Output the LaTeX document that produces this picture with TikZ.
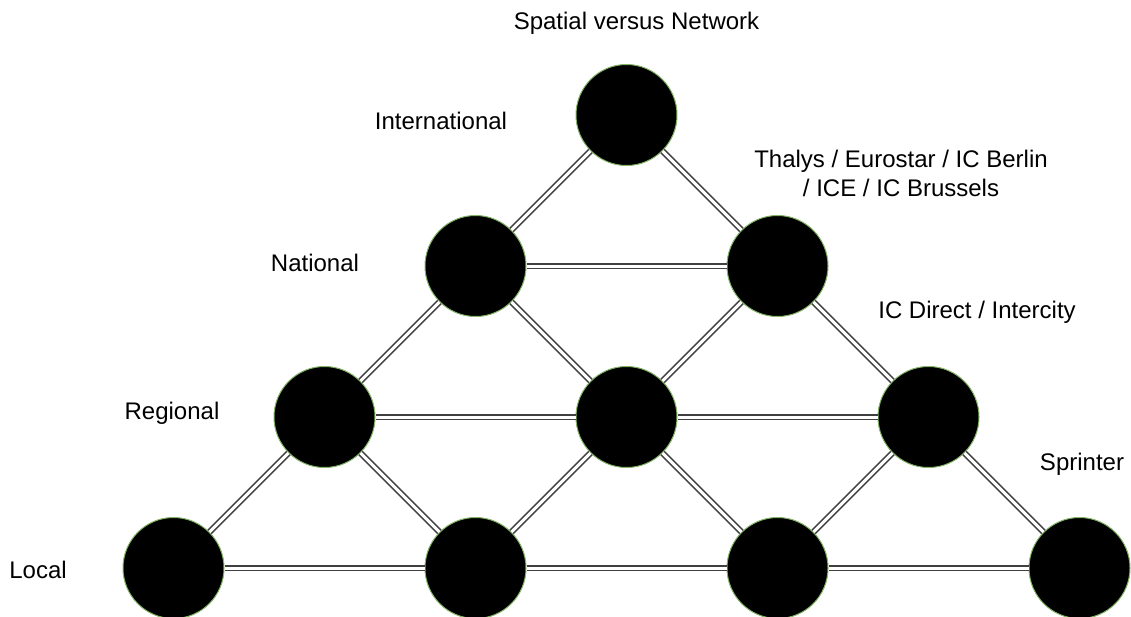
\documentclass[tikz,border=0pt]{standalone}
\usepackage{fontspec}
\setmainfont{Liberation Sans}
\usepackage{tikz}

\definecolor{ringgreen}{HTML}{82B366}

\tikzset{
  stop/.style={circle, fill=black, draw=ringgreen, line width=1pt, minimum size=101pt, inner sep=0pt},
  track/.style={draw=black!75, line width=1.6pt, double=white, double distance=3pt},
  tag/.style={font=\fontsize{24}{29}\selectfont, inner sep=0pt}
}

\begin{document}
\begin{tikzpicture}[x=1pt, y=-1pt]
\useasboundingbox (0,0) rectangle (1131,616);

% stations
\node[stop] (intl) at (626.5,115) {};

\node[stop] (nat1) at (475.5,266) {};
\node[stop] (nat2) at (777.5,266) {};

\node[stop] (reg1) at (324.5,417) {};
\node[stop] (reg2) at (626.5,417) {};
\node[stop] (reg3) at (928.5,417) {};

\node[stop] (loc1) at (173.5,568) {};
\node[stop] (loc2) at (475.5,568) {};
\node[stop] (loc3) at (777.5,568) {};
\node[stop] (loc4) at (1079.5,568) {};

% tracks
\draw[track] (intl) -- (nat1);
\draw[track] (intl) -- (nat2);
\draw[track] (nat1) -- (nat2);

\draw[track] (nat1) -- (reg1);
\draw[track] (nat1) -- (reg2);
\draw[track] (nat2) -- (reg2);
\draw[track] (nat2) -- (reg3);
\draw[track] (reg1) -- (reg2);
\draw[track] (reg2) -- (reg3);

\draw[track] (reg1) -- (loc1);
\draw[track] (reg1) -- (loc2);
\draw[track] (reg2) -- (loc2);
\draw[track] (reg2) -- (loc3);
\draw[track] (reg3) -- (loc3);
\draw[track] (reg3) -- (loc4);
\draw[track] (loc1) -- (loc2);
\draw[track] (loc2) -- (loc3);
\draw[track] (loc3) -- (loc4);

% labels
\node[tag] (title) at (636.5,23) {Spatial versus Network};
\node[tag] (lintl) at (441,121) {International};
\node[tag, align=center] (lthalys) at (901,173) {Thalys / Eurostar / IC Berlin\\/ ICE / IC Brussels};
\node[tag] (lnat) at (315,263) {National};
\node[tag] (lic) at (977,312) {IC Direct / Intercity};
\node[tag] (lreg) at (172,413) {Regional};
\node[tag] (lspr) at (1082,464) {Sprinter};
\node[tag] (lloc) at (38,570) {Local};
%
\end{tikzpicture}
\end{document}
